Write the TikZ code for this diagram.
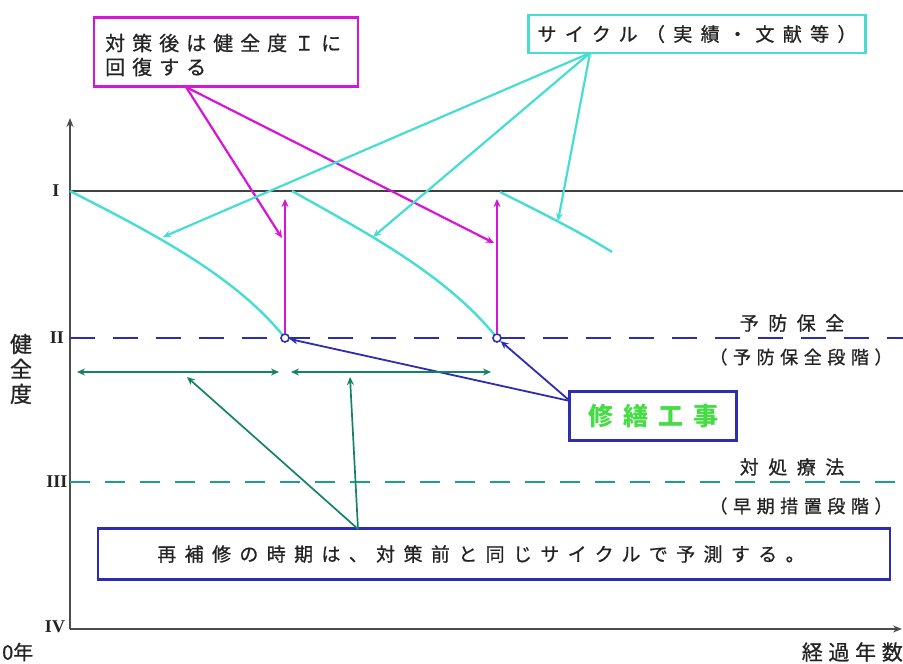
\documentclass[tikz,border=0pt]{standalone}
\usepackage{fontspec}
\setmainfont{Liberation Serif}
\newfontfamily\jp[FakeBold=0.7]{Noto Sans CJK JP}
\newfontfamily\jpb{Noto Sans CJK JP}
\usetikzlibrary{arrows.meta}
\definecolor{cyanL}{RGB}{70,222,210}
\definecolor{magL}{RGB}{215,20,215}
\definecolor{navyL}{RGB}{45,45,175}
\definecolor{tealL}{RGB}{30,160,135}
\definecolor{grnA}{RGB}{20,130,100}
\definecolor{grnT}{RGB}{70,220,70}
\definecolor{txt}{RGB}{35,35,35}
\tikzset{
  axisline/.style={draw=black!70,line width=1.3},
  cy/.style={draw=cyanL,line width=2.4},
  cyarr/.style={draw=cyanL,line width=2.2,-{Stealth[length=8,width=7]}},
  mgarr/.style={draw=magL,line width=2.2,-{Stealth[length=8,width=7]}},
  nvarr/.style={draw=navyL,line width=1.8,-{Stealth[length=8,width=7]}},
  grarr/.style={draw=grnA,line width=2.2,{Stealth[length=8,width=7]}-{Stealth[length=8,width=7]}},
  tlarr/.style={draw=grnA,line width=1.7,-{Stealth[length=8,width=7]}},
  dot/.style={circle,draw=navyL,line width=1.6,inner sep=0,minimum size=8,fill=white},
  lvl/.style={font=\fontsize{18}{18}\selectfont\bfseries,text=txt},
  lbl/.style={text=txt,inner sep=0},
}
\begin{document}
\begin{tikzpicture}[x=1pt,y=-1pt]
\useasboundingbox (0,0) rectangle (903,664);
\fill[white] (0,0) rectangle (903,664);

% axes
\coordinate (o) at (70,629);
\coordinate (ytop) at (70,118);
\coordinate (xend) at (902,629);
\draw[axisline,-{Stealth[length=9,width=7]}] (o) -- (ytop);
\draw[axisline,-{Stealth[length=9,width=7]}] (o) -- (xend);

% level lines
\coordinate (l1a) at (70,191); \coordinate (l1b) at (903,191);
\coordinate (l2a) at (70,338); \coordinate (l2b) at (903,338);
\coordinate (l3a) at (70,482); \coordinate (l3b) at (903,482);
\draw[black!75,line width=1.2] (l1a) -- (l1b);
\draw[navyL,line width=2.8,dash pattern=on 25 off 18] (l2a) -- (l2b);
\draw[tealL,line width=2.8,dash pattern=on 20 off 15] (l3a) -- (l3b);

% level labels
\node[lvl] (nI) at (56,191) {I};
\node[lvl] (nII) at (57,338) {II};
\node[lvl] (nIII) at (57,482) {III};
\node[lvl] (nIV) at (55,627) {IV};
\node[font=\jp\fontsize{22}{25}\selectfont,text=txt,align=center,inner sep=0] (kenzen) at (21,369) {健\\全\\度};
\node[lbl,font=\jp\fontsize{20}{20}\selectfont,anchor=west] (zero) at (2,652) {0年};
\node[lbl,font=\jp\fontsize{21}{21}\selectfont\addfontfeature{LetterSpace=27},anchor=east] (keika) at (903,652) {経過年数};

% right labels
\node[lbl,font=\jp\fontsize{19}{20}\selectfont\addfontfeature{LetterSpace=50}] (yobo) at (792,323) {予防保全};
\node[lbl,font=\jp\fontsize{18}{20}\selectfont\addfontfeature{LetterSpace=31}] (yobo2) at (801,357) {（予防保全段階）};
\node[lbl,font=\jp\fontsize{19}{20}\selectfont\addfontfeature{LetterSpace=50}] (taisho) at (792,467) {対処療法};
\node[lbl,font=\jp\fontsize{18}{20}\selectfont\addfontfeature{LetterSpace=31}] (soki) at (801,506) {（早期措置段階）};

% cyan curves
\draw[cy] (70,191) .. controls (150,232) and (235,275) .. (285,338);
\draw[cy] (292,191) .. controls (365,232) and (447,275) .. (497,338);
\draw[cy] (500,192) .. controls (540,212) and (580,232) .. (612,252);
\coordinate (t1) at (163,237);
\coordinate (t2) at (373,237);
\coordinate (t3) at (558,221);

% repair points
\node[dot] (c1) at (285,338) {};
\node[dot] (c2) at (497,338) {};
\coordinate (u1) at (285,199);
\coordinate (u2) at (497,199);
\draw[mgarr] (c1) -- (u1);
\draw[mgarr] (c2) -- (u2);

% boxes
\node[draw=magL,line width=2.4,fill=white,minimum width=264,minimum height=69,inner sep=0] (mbox) at (226,52) {};
\node[lbl,font=\jp\fontsize{20}{24}\selectfont\addfontfeature{LetterSpace=35},align=left,anchor=west] (mtext) at (105,55) {対策後は健全度Ｉに\\回復する};
\node[draw=cyanL,line width=2.6,fill=white,minimum width=337,minimum height=38,inner sep=0,font=\jp\fontsize{19}{20}\selectfont\addfontfeature{LetterSpace=44},text=txt] (cbox) at (697,34) {サイクル（実績・文献等）};
\node[draw=navyL,line width=2.2,fill=white,minimum width=167,minimum height=49,inner sep=0,font=\jpb\fontsize{25}{28}\selectfont\bfseries\addfontfeature{LetterSpace=40},text=grnT] (rbox) at (653,416) {修繕工事};
\node[draw=navyL,line width=2.2,fill=white,minimum width=792,minimum height=51,inner sep=0] (sbox) at (494,554) {};
\node[lbl,font=\jp\fontsize{19}{22}\selectfont\addfontfeature{LetterSpace=44}] (stext) at (481,554) {再補修の時期は、対策前と同じサイクルで予測する。};

% magenta pointers
\coordinate (mfrom) at (186,87);
\coordinate (m1) at (282,238);
\coordinate (m2) at (494,243);
\draw[mgarr] (mfrom) -- (m1);
\draw[mgarr] (mfrom) -- (m2);

% cyan pointers
\coordinate (cfrom) at (590,53);
\draw[cyarr] (cfrom) -- (t1);
\draw[cyarr] (cfrom) -- (t2);
\draw[cyarr] (cfrom) -- (t3);

% repair pointers
\coordinate (rfrom) at (570,401);
\draw[nvarr] (rfrom) -- (c1);
\draw[nvarr] (rfrom) -- (c2);

% period arrows
\coordinate (p1a) at (77,372); \coordinate (p1b) at (279,372);
\coordinate (p2a) at (291,372); \coordinate (p2b) at (491,372);
\draw[grarr] (p1a) -- (p1b);
\draw[grarr] (p2a) -- (p2b);
\coordinate (sfrom) at (358,529);
\coordinate (q1) at (187,377);
\coordinate (q2) at (350,377);
\draw[tlarr] (sfrom) -- (q1);
\draw[tlarr] (sfrom) -- (q2);
\end{tikzpicture}
\end{document}
